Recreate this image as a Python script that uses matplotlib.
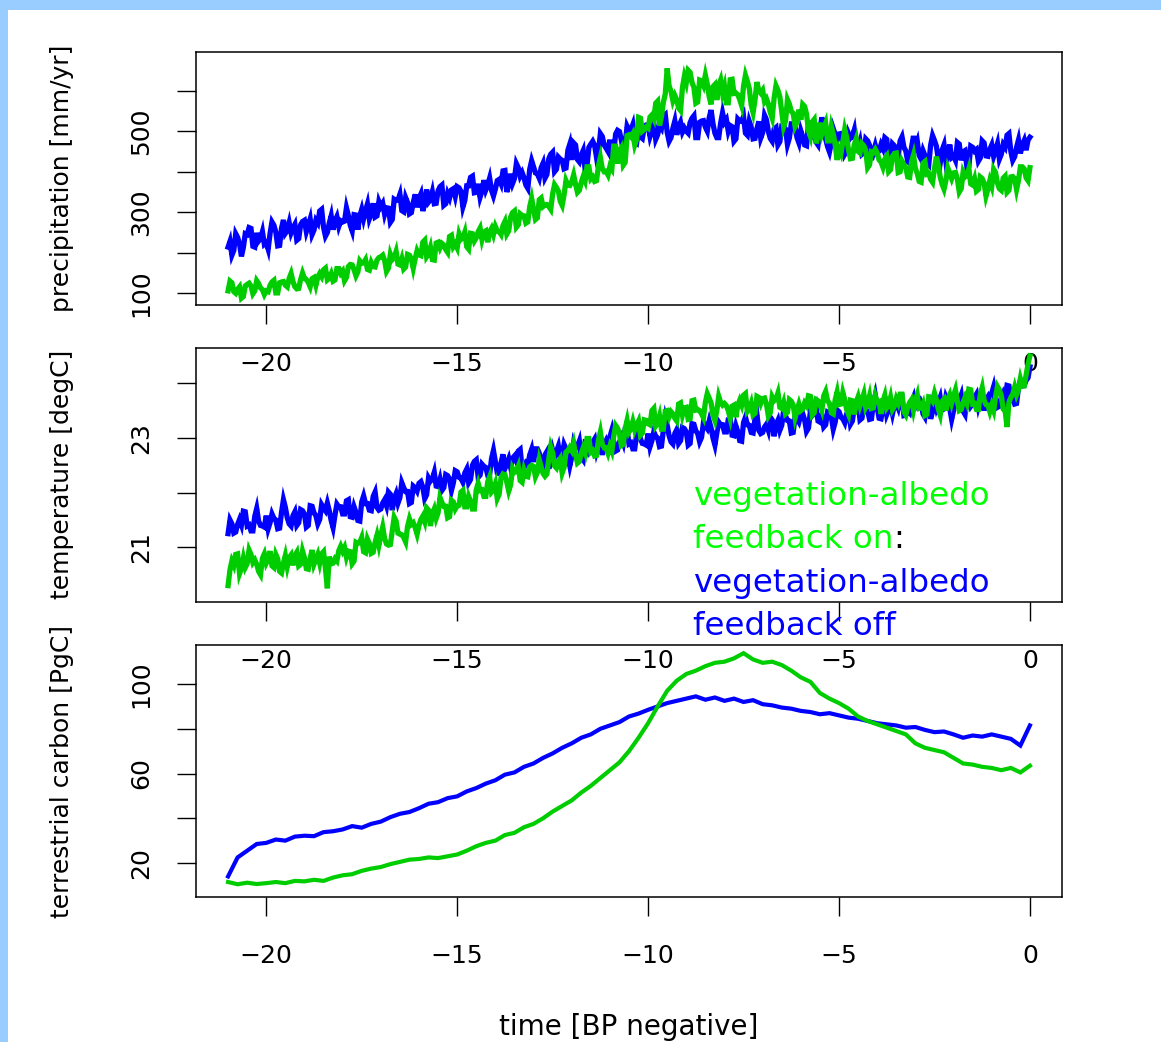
import numpy as np
import matplotlib
matplotlib.use("Agg")
import matplotlib.pyplot as plt
from matplotlib.patches import Rectangle

# ---------------- data ----------------
time_fine = np.linspace(-21.0, 0.0, 421)      # kyr, 0.05 kyr steps
time_carbon = np.linspace(-21.0, 0.0, 85)     # kyr, 0.25 kyr steps

precip_off = [
    214, 228, 194, 206, 247, 238, 222, 191, 213, 247, 245, 262, 260, 216, 214, 249, 229, 235, 252, 221,
    225, 209, 248, 276, 268, 251, 217, 218, 261, 281, 248, 255, 274, 249, 261, 270, 231, 235, 269, 277,
    280, 252, 267, 283, 245, 256, 280, 273, 303, 307, 263, 241, 250, 273, 291, 257, 278, 289, 265, 279,
    276, 278, 311, 292, 268, 254, 294, 293, 257, 291, 307, 284, 303, 320, 284, 297, 322, 288, 291, 326,
    314, 322, 295, 311, 310, 275, 282, 332, 329, 330, 344, 304, 301, 336, 324, 296, 299, 324, 344, 312,
    334, 345, 303, 323, 356, 325, 331, 350, 321, 322, 353, 363, 367, 317, 321, 346, 335, 355, 358, 339,
    363, 360, 351, 313, 329, 365, 365, 386, 389, 348, 349, 370, 337, 352, 379, 355, 367, 384, 354, 340,
    357, 378, 381, 370, 402, 403, 350, 366, 395, 371, 383, 420, 410, 389, 398, 385, 367, 359, 406, 427,
    412, 397, 395, 384, 410, 421, 384, 393, 432, 443, 448, 400, 406, 436, 431, 428, 407, 409, 453, 468,
    429, 471, 466, 430, 424, 441, 452, 407, 416, 460, 468, 475, 465, 435, 448, 494, 487, 466, 458, 450,
    479, 437, 449, 493, 502, 499, 478, 452, 469, 512, 502, 503, 516, 475, 471, 502, 486, 482, 509, 515,
    515, 487, 502, 518, 480, 491, 514, 507, 537, 541, 497, 475, 484, 507, 525, 491, 511, 522, 498, 508,
    500, 495, 521, 532, 538, 484, 484, 522, 525, 526, 510, 500, 533, 552, 518, 495, 484, 484, 520, 545,
    522, 529, 500, 514, 511, 475, 481, 530, 525, 524, 536, 495, 490, 524, 510, 481, 482, 506, 524, 483,
    496, 539, 528, 499, 482, 475, 505, 509, 466, 474, 512, 511, 505, 467, 483, 518, 518, 510, 484, 471,
    501, 486, 466, 464, 516, 519, 487, 489, 473, 466, 502, 534, 512, 481, 462, 449, 472, 506, 492, 477,
    493, 494, 477, 443, 451, 494, 483, 487, 503, 463, 459, 475, 443, 447, 481, 476, 465, 429, 448, 465,
    447, 451, 467, 457, 484, 480, 428, 433, 469, 464, 453, 437, 476, 486, 460, 451, 425, 421, 460, 488,
    462, 475, 440, 431, 452, 440, 422, 417, 466, 489, 477, 463, 432, 421, 453, 466, 425, 440, 467, 435,
    439, 428, 472, 468, 428, 449, 452, 411, 413, 463, 460, 451, 455, 426, 434, 476, 471, 439, 438, 455,
    466, 438, 453, 469, 431, 443, 467, 460, 490, 494, 450, 428, 437, 460, 478, 445, 466, 477, 453, 478,
    485]

precip_on = [
    106, 130, 126, 104, 100, 110, 116, 88, 92, 118, 122, 125, 118, 99, 106, 131, 124, 113, 109, 97,
    106, 104, 120, 128, 132, 101, 101, 126, 128, 129, 120, 116, 137, 149, 129, 116, 111, 112, 134, 150,
    137, 134, 127, 116, 136, 139, 120, 140, 149, 141, 158, 162, 133, 137, 148, 130, 133, 161, 161, 149,
    155, 131, 139, 166, 171, 170, 158, 143, 153, 180, 174, 175, 183, 159, 157, 176, 166, 165, 182, 188,
    190, 194, 181, 154, 162, 196, 183, 188, 203, 172, 170, 185, 160, 165, 196, 194, 185, 162, 185, 205,
    195, 193, 226, 231, 190, 197, 213, 183, 182, 224, 226, 212, 223, 219, 208, 201, 240, 243, 215, 222,
    212, 246, 233, 237, 251, 215, 209, 248, 247, 229, 237, 252, 261, 233, 251, 254, 226, 251, 260, 245,
    265, 254, 252, 245, 267, 277, 246, 254, 288, 299, 303, 263, 269, 296, 292, 291, 273, 276, 314, 334,
    308, 282, 286, 331, 335, 314, 318, 319, 314, 307, 345, 368, 361, 352, 327, 317, 343, 378, 367, 366,
    375, 392, 369, 349, 354, 374, 388, 377, 412, 412, 382, 387, 376, 378, 415, 435, 408, 400, 401, 392,
    413, 406, 463, 463, 420, 451, 459, 416, 423, 489, 491, 486, 494, 466, 480, 534, 532, 500, 504, 510,
    507, 535, 540, 530, 569, 574, 514, 536, 571, 592, 655, 612, 598, 575, 588, 577, 557, 551, 608, 635,
    619, 650, 645, 620, 608, 569, 572, 626, 624, 613, 638, 616, 585, 566, 610, 615, 577, 613, 626, 594,
    611, 570, 570, 627, 628, 593, 594, 590, 578, 563, 611, 638, 623, 605, 565, 546, 577, 621, 600, 594,
    601, 573, 580, 567, 546, 532, 581, 612, 601, 585, 547, 511, 525, 578, 567, 549, 544, 512, 522, 553,
    528, 566, 561, 542, 501, 487, 523, 529, 470, 489, 521, 493, 507, 520, 476, 476, 511, 493, 466, 429,
    456, 445, 473, 504, 485, 453, 432, 433, 467, 481, 450, 446, 469, 464, 452, 410, 417, 449, 447, 455,
    446, 429, 424, 411, 431, 438, 400, 405, 438, 445, 446, 398, 400, 426, 417, 410, 387, 386, 424, 441,
    408, 395, 376, 374, 421, 425, 394, 396, 381, 374, 407, 437, 416, 387, 369, 357, 378, 409, 396, 383,
    397, 398, 382, 350, 358, 398, 387, 391, 407, 370, 367, 382, 352, 356, 387, 383, 372, 340, 357, 378,
    364, 406, 398, 372, 358, 354, 384, 389, 349, 354, 387, 388, 383, 356, 378, 412, 412, 407, 385, 378,
    410]

temp_off = [
    21.25, 21.50, 21.43, 21.26, 21.28, 21.42, 21.51, 21.41, 21.66, 21.65, 21.39, 21.41, 21.30, 21.30, 21.57, 21.71, 21.48, 21.40, 21.39, 21.37,
    21.58, 21.34, 21.45, 21.61, 21.53, 21.50, 21.34, 21.35, 21.64, 21.87, 21.73, 21.54, 21.43, 21.39, 21.58, 21.65, 21.40, 21.45, 21.69, 21.67,
    21.61, 21.37, 21.40, 21.76, 21.75, 21.63, 21.58, 21.43, 21.51, 21.78, 21.72, 21.67, 21.81, 21.67, 21.49, 21.36, 21.59, 21.79, 21.74, 21.74,
    21.61, 21.61, 21.85, 21.87, 21.56, 21.55, 21.74, 21.64, 21.49, 21.48, 21.83, 21.94, 21.80, 21.80, 21.68, 21.67, 21.93, 22.01, 21.73, 21.68,
    21.70, 21.81, 21.87, 21.76, 22.01, 21.97, 21.68, 21.89, 21.98, 21.81, 21.91, 22.18, 22.09, 22.02, 22.02, 21.80, 21.82, 22.12, 22.09, 22.03,
    22.17, 22.20, 22.10, 21.89, 21.96, 22.27, 22.21, 22.25, 22.37, 22.12, 22.11, 22.24, 22.04, 22.09, 22.33, 22.31, 22.25, 22.04, 22.18, 22.40,
    22.38, 22.28, 22.26, 22.19, 22.36, 22.43, 22.18, 22.24, 22.50, 22.57, 22.60, 22.28, 22.32, 22.52, 22.48, 22.46, 22.32, 22.33, 22.62, 22.77,
    22.56, 22.36, 22.35, 22.55, 22.70, 22.44, 22.53, 22.62, 22.46, 22.63, 22.67, 22.58, 22.76, 22.79, 22.45, 22.46, 22.54, 22.50, 22.69, 22.79,
    22.56, 22.80, 22.80, 22.72, 22.51, 22.46, 22.69, 22.75, 22.44, 22.57, 22.78, 22.65, 22.75, 22.85, 22.63, 22.66, 22.88, 22.80, 22.68, 22.49,
    22.65, 22.91, 22.81, 22.84, 22.94, 22.65, 22.60, 22.91, 22.89, 22.75, 22.81, 22.92, 22.98, 22.76, 22.89, 22.91, 22.69, 22.88, 22.95, 22.85,
    23.02, 23.14, 22.93, 22.76, 22.78, 22.92, 23.01, 22.91, 23.16, 23.15, 22.89, 22.91, 22.80, 22.80, 23.07, 23.21, 22.98, 22.90, 22.89, 22.87,
    23.08, 22.84, 22.95, 23.11, 23.03, 23.00, 22.84, 22.85, 23.14, 23.37, 23.23, 23.04, 22.93, 22.89, 23.08, 23.15, 22.90, 22.95, 23.19, 23.17,
    23.11, 22.87, 22.90, 23.26, 23.25, 23.13, 23.08, 22.93, 23.01, 23.28, 23.22, 23.17, 23.31, 23.18, 23.00, 22.87, 23.09, 23.29, 23.24, 23.24,
    23.11, 23.11, 23.34, 23.36, 23.05, 23.04, 23.22, 23.11, 22.95, 22.94, 23.28, 23.38, 23.24, 23.23, 23.10, 23.09, 23.35, 23.43, 23.14, 23.08,
    23.10, 23.20, 23.25, 23.14, 23.38, 23.33, 23.03, 23.24, 23.32, 23.14, 23.23, 23.50, 23.40, 23.32, 23.31, 23.09, 23.10, 23.39, 23.35, 23.29,
    23.42, 23.44, 23.33, 23.12, 23.18, 23.48, 23.41, 23.45, 23.56, 23.31, 23.29, 23.41, 23.20, 23.24, 23.47, 23.45, 23.38, 23.16, 23.29, 23.51,
    23.48, 23.38, 23.35, 23.28, 23.44, 23.51, 23.25, 23.31, 23.56, 23.63, 23.65, 23.33, 23.36, 23.56, 23.51, 23.49, 23.34, 23.35, 23.63, 23.78,
    23.56, 23.36, 23.35, 23.54, 23.69, 23.43, 23.52, 23.60, 23.44, 23.60, 23.64, 23.55, 23.73, 23.75, 23.41, 23.42, 23.50, 23.46, 23.65, 23.74,
    23.51, 23.74, 23.73, 23.65, 23.44, 23.38, 23.60, 23.66, 23.35, 23.48, 23.68, 23.54, 23.64, 23.74, 23.51, 23.53, 23.75, 23.67, 23.54, 23.34,
    23.50, 23.76, 23.65, 23.68, 23.78, 23.49, 23.43, 23.74, 23.72, 23.58, 23.63, 23.74, 23.80, 23.58, 23.71, 23.73, 23.50, 23.69, 23.75, 23.65,
    23.82, 23.94, 23.73, 23.56, 23.58, 23.72, 23.81, 23.71, 23.96, 23.95, 23.70, 23.72, 23.62, 23.63, 23.92, 24.05, 23.95, 23.96, 24.05, 24.10,
    24.30]

temp_on = [
    20.30, 20.59, 20.75, 20.67, 20.87, 20.88, 20.52, 20.62, 20.80, 20.63, 20.70, 20.95, 20.87, 20.72, 20.77, 20.69, 20.56, 20.50, 20.80, 20.88,
    20.71, 20.78, 20.93, 20.66, 20.63, 20.87, 20.79, 20.56, 20.53, 20.71, 20.85, 20.65, 20.81, 20.86, 20.67, 20.85, 20.91, 20.66, 20.69, 20.93,
    20.81, 20.61, 20.60, 20.80, 20.95, 20.69, 20.78, 20.87, 20.71, 20.88, 20.92, 20.61, 20.25, 20.83, 20.70, 20.71, 20.79, 20.75, 20.94, 21.02,
    20.93, 21.00, 20.82, 20.93, 20.92, 20.70, 20.75, 21.09, 21.07, 21.09, 21.18, 20.92, 20.90, 21.15, 21.07, 20.89, 20.91, 21.09, 21.22, 21.04,
    21.22, 21.37, 21.16, 21.06, 21.04, 21.05, 21.30, 21.55, 21.48, 21.26, 21.24, 21.23, 21.18, 21.10, 21.38, 21.52, 21.42, 21.45, 21.36, 21.24,
    21.40, 21.51, 21.57, 21.47, 21.72, 21.68, 21.39, 21.61, 21.70, 21.53, 21.63, 21.91, 21.82, 21.75, 21.75, 21.54, 21.56, 21.86, 21.83, 21.70,
    21.76, 21.77, 22.01, 22.04, 21.74, 21.74, 21.93, 21.84, 21.70, 21.70, 22.05, 22.17, 22.04, 22.05, 21.93, 21.93, 22.20, 22.29, 22.01, 22.05,
    22.16, 21.89, 21.97, 22.28, 22.34, 22.33, 22.19, 22.03, 22.14, 22.44, 22.37, 22.39, 22.48, 22.22, 22.19, 22.41, 22.30, 22.29, 22.47, 22.50,
    22.48, 22.29, 22.37, 22.60, 22.47, 22.35, 22.30, 22.34, 22.62, 22.84, 22.73, 22.49, 22.45, 22.56, 22.62, 22.36, 22.46, 22.74, 22.77, 22.83,
    22.77, 22.90, 22.70, 22.54, 22.57, 22.72, 22.82, 22.73, 22.99, 22.99, 22.74, 22.77, 22.67, 22.68, 22.96, 23.11, 22.89, 22.82, 22.82, 22.72,
    22.85, 22.76, 23.03, 23.23, 23.18, 23.08, 22.86, 22.88, 23.17, 23.32, 23.11, 23.17, 23.30, 23.15, 23.24, 23.31, 23.05, 23.09, 23.33, 23.32,
    23.26, 23.24, 23.50, 23.54, 23.22, 23.27, 23.40, 23.16, 23.16, 23.49, 23.50, 23.39, 23.48, 23.44, 23.36, 23.31, 23.62, 23.64, 23.42, 23.55,
    23.56, 23.34, 23.35, 23.68, 23.69, 23.51, 23.52, 23.50, 23.44, 23.37, 23.65, 23.81, 23.73, 23.64, 23.42, 23.32, 23.50, 23.76, 23.65, 23.60,
    23.63, 23.59, 23.50, 23.36, 23.58, 23.60, 23.38, 23.60, 23.69, 23.60, 23.78, 23.81, 23.48, 23.52, 23.63, 23.42, 23.45, 23.76, 23.74, 23.63,
    23.72, 23.73, 23.62, 23.40, 23.46, 23.75, 23.68, 23.71, 23.82, 23.56, 23.54, 23.65, 23.44, 23.47, 23.70, 23.67, 23.60, 23.37, 23.50, 23.62,
    23.50, 23.53, 23.64, 23.59, 23.77, 23.76, 23.42, 23.46, 23.70, 23.68, 23.61, 23.51, 23.77, 23.85, 23.68, 23.63, 23.46, 23.44, 23.70, 23.84,
    23.61, 23.62, 23.83, 23.70, 23.52, 23.43, 23.69, 23.68, 23.43, 23.65, 23.75, 23.59, 23.70, 23.81, 23.56, 23.63, 23.77, 23.54, 23.55, 23.77,
    23.66, 23.67, 23.44, 23.67, 23.78, 23.55, 23.60, 23.74, 23.52, 23.58, 23.72, 23.64, 23.80, 23.80, 23.48, 23.42, 23.56, 23.65, 23.70, 23.51,
    23.68, 23.79, 23.54, 23.55, 23.63, 23.41, 23.43, 23.75, 23.74, 23.68, 23.82, 23.70, 23.53, 23.42, 23.67, 23.71, 23.50, 23.71, 23.79, 23.64,
    23.77, 23.88, 23.67, 23.50, 23.52, 23.65, 23.74, 23.64, 23.89, 23.88, 23.62, 23.63, 23.52, 23.52, 23.79, 23.92, 23.69, 23.61, 23.60, 23.48,
    23.60, 23.50, 23.75, 23.94, 23.88, 23.77, 23.53, 23.50, 23.20, 23.65, 23.74, 23.80, 23.93, 23.79, 23.88, 24.08, 23.95, 23.95, 24.15, 24.35,
    24.50]

carbon_off = [
    14.0, 22.5, 25.5, 28.5,
    29.0, 30.5, 30.0, 31.8,
    32.2, 32.0, 33.8, 34.2,
    35.0, 36.5, 35.8, 37.5,
    38.5, 40.5, 42.0, 42.8,
    44.5, 46.5, 47.2, 49.0,
    49.8, 52.0, 53.5, 55.5,
    57.0, 59.5, 60.5, 63.0,
    64.5, 67.0, 69.0, 71.5,
    73.5, 76.0, 77.5, 80.0,
    81.5, 83.0, 85.5, 86.8,
    88.5, 90.0, 91.5, 92.5,
    93.5, 94.5, 93.0, 94.0,
    92.5, 93.5, 92.0, 92.8,
    91.0, 90.5, 89.5, 89.0,
    88.0, 87.5, 86.5, 87.0,
    86.0, 85.0, 84.5, 83.5,
    82.5, 82.0, 81.5, 80.5,
    80.8, 79.5, 78.5, 78.8,
    77.5, 76.0, 77.0, 76.5,
    77.5, 76.5, 75.5, 72.5,
    81.5]

carbon_on = [
    11.5, 10.5, 11.2, 10.6,
    11.0, 11.5, 11.0, 12.0,
    11.8, 12.5, 12.0, 13.5,
    14.5, 15.0, 16.5, 17.5,
    18.2, 19.5, 20.5, 21.5,
    21.8, 22.5, 22.2, 23.0,
    23.8, 25.5, 27.5, 29.0,
    30.0, 32.5, 33.5, 36.0,
    37.5, 40.0, 43.0, 45.5,
    48.0, 51.5, 54.5, 58.0,
    61.5, 65.0, 70.0, 76.0,
    82.5, 90.0, 97.0, 101.5,
    104.5, 106.0, 108.0, 109.5,
    110.0, 111.5, 113.8, 111.0,
    109.5, 110.0, 108.5, 106.0,
    103.0, 101.0, 96.0, 93.5,
    91.5, 89.0, 85.5, 83.5,
    82.0, 80.5, 79.0, 77.5,
    73.5, 71.5, 70.5, 69.5,
    67.0, 64.5, 64.0, 63.0,
    62.5, 61.5, 62.5, 60.5,
    63.5]

x_ticks = [-20, -15, -10, -5, 0]
precip_ticks = [100, 200, 300, 400, 500, 600]
precip_labels = ["100", "", "300", "", "500", ""]
temp_ticks = [21, 22, 23, 24]
temp_labels = ["21", "", "23", ""]
carbon_ticks = [20, 40, 60, 80, 100]
carbon_labels = ["20", "", "60", "", "100"]

ylabels = ["precipitation [mm/yr]", "temperature [degC]", "terrestrial carbon [PgC]"]
xlabel = "time [BP negative]"
legend_lines = [("vegetation-albedo", "on"), ("feedback on", "on"),
                ("vegetation-albedo", "off"), ("feedback off", "off")]

# ---------------- figure ----------------
W, H = 1161, 1042
plt.rcParams['font.family'] = ['DejaVu Sans']
fig = plt.figure(figsize=(W / 100, H / 100), dpi=100)
fig.patch.set_facecolor('white')

GREEN = '#00CD00'
BLUE = '#0000FF'
LEG_GREEN = '#00FF00'

left_px, right_px = 196, 1062
panels_px = [(51.7, 305.3), (347.7, 602.0), (644.7, 897.3)]
ylims = [(70.4, 696.0), (20.0, 24.65), (4.67, 117.6)]
series = [(time_fine, precip_off, precip_on),
          (time_fine, temp_off, temp_on),
          (time_carbon, carbon_off, carbon_on)]
yt = [(precip_ticks, precip_labels), (temp_ticks, temp_labels),
      (carbon_ticks, carbon_labels)]
lws = [3.8, 3.8, 3.0]

for i, ((top, bot), yl, (t, off, on), (tk, tl)) in enumerate(
        zip(panels_px, ylims, series, yt)):
    ax = fig.add_axes([left_px / W, 1 - bot / H, (right_px - left_px) / W,
                       (bot - top) / H])
    ax.set_facecolor('none')
    ax.plot(t, off, color=BLUE, lw=lws[i], solid_joinstyle='miter')
    ax.plot(t, on, color=GREEN, lw=lws[i], solid_joinstyle='miter')
    ax.set_xlim(-21.84, 0.84)
    ax.set_ylim(*yl)
    ax.set_xticks(x_ticks)
    ax.set_xticklabels([f"\u2212{abs(v)}" if v < 0 else str(v) for v in x_ticks])
    ax.set_yticks(tk)
    ax.set_yticklabels(tl, rotation=90, va='center')
    ax.tick_params(axis='both', direction='out', length=13.7, width=1.0,
                   labelsize=18, colors='black')
    ax.tick_params(axis='x', pad=20)
    ax.tick_params(axis='y', pad=17)
    for s in ax.spines.values():
        s.set_linewidth(1.1)
        s.set_color('black')
    ax.set_zorder(1 + i)
    fig.text(62 / W, 1 - (top + bot) / 2 / H, ylabels[i], rotation=90,
             ha='center', va='center', fontsize=18)

fig.text(629 / W, 1 - 1027 / H, xlabel, ha='center', va='center', fontsize=20)

# legend text
baselines = [505, 548, 592, 635]
renderer = fig.canvas.get_renderer()
for (txt, kind), b in zip(legend_lines, baselines):
    col = LEG_GREEN if kind == "on" else BLUE
    tx = fig.text(693 / W, 1 - b / H, txt, color=col, fontsize=23.4,
                  va='baseline', ha='left', zorder=20)
    if txt == "feedback on":
        bb = tx.get_window_extent(renderer)
        fig.text(bb.x1 / W, 1 - b / H, ":", color='black', fontsize=23.4,
                 va='baseline', ha='left', zorder=20)

# light blue frame
fig.patches.append(Rectangle((0, 1 - 10 / H), 1, 10 / H, transform=fig.transFigure,
                             facecolor='#99CCFF', edgecolor='none', zorder=50))
fig.patches.append(Rectangle((0, 0), 8 / W, 1, transform=fig.transFigure,
                             facecolor='#99CCFF', edgecolor='none', zorder=50))

fig.savefig("out.png", dpi=100)
